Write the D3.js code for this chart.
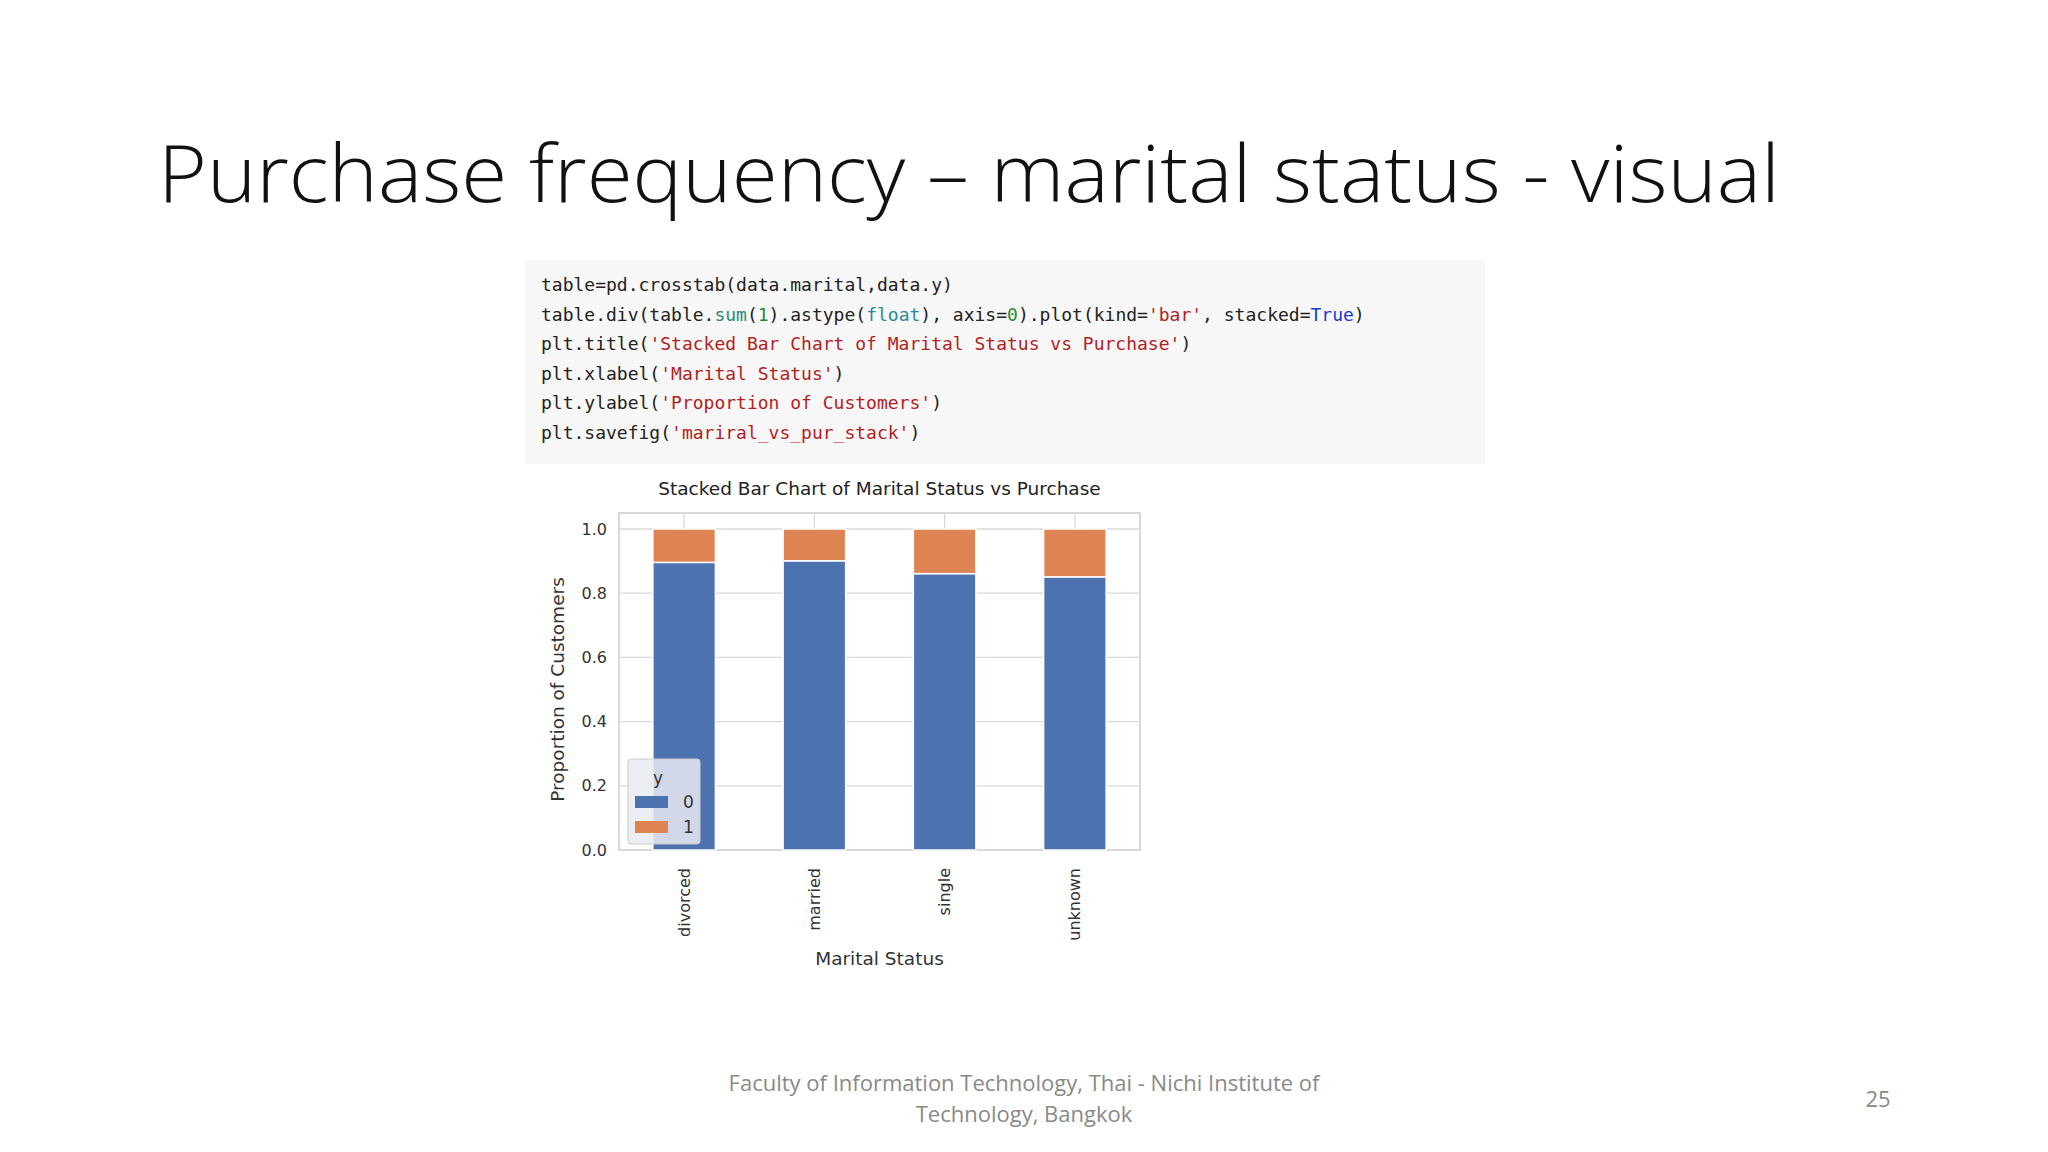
<!DOCTYPE html>
<html><head><meta charset="utf-8">
<script src="https://cdn.jsdelivr.net/npm/d3@7"></script>
<style>body{margin:0;background:#fff}svg{display:block}</style>
</head><body>
<script>
const categories = ["divorced","married","single","unknown"];
const share0 = [0.896, 0.901, 0.861, 0.851];
const share1 = categories.map((c,i)=>1-share0[i]);
const seriesKeys = ["0","1"];
const yTicks = [0,0.2,0.4,0.6,0.8,1.0];
const codeLines = [
 [["table=pd.crosstab(data.marital,data.y)","#222"]],
 [["table.div(table.","#222"],["sum","#2a8a7a"],["(","#222"],["1","#2a8a2a"],[").astype(","#222"],["float","#2a8a9a"],["), axis=","#222"],["0","#2a8a2a"],[").plot(kind=","#222"],["'bar'","#b22222"],[", stacked=","#222"],["True","#1a3cc8"],[")","#222"]],
 [["plt.title(","#222"],["'Stacked Bar Chart of Marital Status vs Purchase'","#b22222"],[")","#222"]],
 [["plt.xlabel(","#222"],["'Marital Status'","#b22222"],[")","#222"]],
 [["plt.ylabel(","#222"],["'Proportion of Customers'","#b22222"],[")","#222"]],
 [["plt.savefig(","#222"],["'mariral_vs_pur_stack'","#b22222"],[")","#222"]]
];

const svg = d3.select("body").append("svg").attr("width",2048).attr("height",1152);
svg.append("text").attr("x",158).attr("y",202).attr("font-family","Open Sans").attr("font-weight",300)
  .attr("font-size",80).attr("fill","#111").attr("textLength",1622).attr("lengthAdjust","spacingAndGlyphs")
  .text("Purchase frequency – marital status - visual");

// code box
svg.append("rect").attr("x",525).attr("y",260).attr("width",960).attr("height",204).attr("fill","#f7f7f7");
codeLines.forEach((line,i)=>{
  const t = svg.append("text").attr("x",541).attr("y",291+i*29.6).attr("font-family","DejaVu Sans Mono").attr("font-size",18).attr("xml:space","preserve");
  line.forEach(([s,c])=>t.append("tspan").attr("fill",c).text(s));
});

// chart
const L=619,R=1140,T=513,B=850;
const x = d3.scaleBand().domain(categories).range([L,R]).paddingInner(0.52).paddingOuter(0.26);
const y = d3.scaleLinear().domain([0,1.05]).range([B,B-(850-529)*1.05]);
const g = svg.append("g");
g.append("rect").attr("x",L).attr("y",T).attr("width",R-L).attr("height",B-T).attr("fill","#fff").attr("stroke","#ccc").attr("stroke-width",1.5);
g.selectAll(".gy").data(yTicks).join("line").attr("x1",L).attr("x2",R).attr("y1",d=>y(d)).attr("y2",d=>y(d)).attr("stroke","#d9d9d9").attr("stroke-width",1.3);
g.selectAll(".gx").data(categories).join("line").attr("x1",d=>x(d)+x.bandwidth()/2).attr("x2",d=>x(d)+x.bandwidth()/2).attr("y1",T).attr("y2",B).attr("stroke","#d9d9d9").attr("stroke-width",1.3);
const rows = categories.map((c,i)=>({cat:c,"0":share0[i],"1":share1[i]}));
const stack = d3.stack().keys(seriesKeys)(rows);
const colors = {"0":"#4c72b0","1":"#dd8452"};
stack.forEach(s=>{
  g.selectAll(null).data(s).join("rect").attr("x",d=>x(d.data.cat)).attr("width",x.bandwidth())
   .attr("y",d=>y(d[1])).attr("height",d=>y(d[0])-y(d[1])).attr("fill",colors[s.key]).attr("stroke","#fff").attr("stroke-width",1.5);
});
const ya = d3.axisLeft(y).tickValues(yTicks).tickFormat(d3.format(".1f")).tickSize(0).tickPadding(12);
const yg = svg.append("g").attr("transform",`translate(${L},0)`).call(ya);
yg.select(".domain").remove();
yg.selectAll("text").attr("font-family","DejaVu Sans").attr("font-size",16).attr("fill","#333");
const xa = d3.axisBottom(x).tickSize(0).tickPadding(0);
const xg = svg.append("g").attr("transform",`translate(0,${B})`).call(xa);
xg.select(".domain").remove();
xg.selectAll("text").attr("font-family","DejaVu Sans").attr("font-size",16).attr("fill","#333")
  .attr("transform","rotate(-90)").attr("text-anchor","end").attr("x",-18).attr("y",0).attr("dy","0.35em");
svg.append("text").attr("x",(L+R)/2).attr("y",495).attr("text-anchor","middle").attr("font-family","DejaVu Sans").attr("font-size",18.5).attr("fill","#222").text("Stacked Bar Chart of Marital Status vs Purchase");
svg.append("text").attr("x",(L+R)/2).attr("y",965).attr("text-anchor","middle").attr("font-family","DejaVu Sans").attr("font-size",18.5).attr("fill","#333").text("Marital Status");
svg.append("text").attr("transform",`translate(564,${(y(1)+B)/2}) rotate(-90)`).attr("text-anchor","middle").attr("font-family","DejaVu Sans").attr("font-size",18.5).attr("fill","#333").text("Proportion of Customers");
// legend
const lg = svg.append("g").attr("transform","translate(628,759)");
lg.append("rect").attr("width",72).attr("height",85).attr("rx",3).attr("fill","#eaeaf2").attr("fill-opacity",0.85).attr("stroke","#ccc");
lg.append("text").attr("x",30).attr("y",25).attr("text-anchor","middle").attr("font-family","DejaVu Sans").attr("font-size",17).attr("fill","#333").text("y");
seriesKeys.forEach((k,i)=>{
  lg.append("rect").attr("x",7).attr("y",37+i*25).attr("width",33).attr("height",12).attr("fill",colors[k]);
  lg.append("text").attr("x",55).attr("y",49+i*25).attr("font-family","DejaVu Sans").attr("font-size",17).attr("fill","#333").text(k);
});
// footer
const fg = svg.append("g").attr("font-family","Open Sans").attr("font-size",22).attr("fill","#898989").attr("text-anchor","middle");
fg.append("text").attr("x",1024).attr("y",1091).text("Faculty of Information Technology, Thai - Nichi Institute of");
fg.append("text").attr("x",1024).attr("y",1122).text("Technology, Bangkok");
fg.append("text").attr("x",1878).attr("y",1107).text("25");
</script>
</body></html>
